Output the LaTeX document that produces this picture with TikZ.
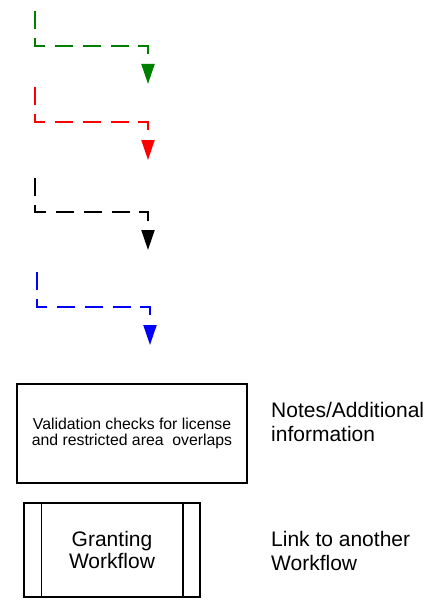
\documentclass[tikz,border=0pt]{standalone}
\usepackage{fontspec}
\setmainfont{Liberation Sans}
\usetikzlibrary{arrows.meta}
\definecolor{dgreen}{RGB}{0,128,0}
\definecolor{dred}{RGB}{255,0,0}
\definecolor{dblue}{RGB}{0,0,255}
\begin{document}
\begin{tikzpicture}[x=1pt,y=-1pt,
  flow/.style={line width=2pt, dash pattern=on 18pt off 9.7pt, dash phase=25pt,
    -{Triangle[width=13pt,length=20pt]}},
  notebox/.style={draw, line width=1.5pt, minimum width=230pt, minimum height=99pt,
    inner sep=0pt, align=center, font=\fontsize{15.8}{16.5}\selectfont},
  linkbox/.style={draw, line width=1.5pt, minimum width=176pt, minimum height=94pt,
    inner sep=0pt, align=center, font=\fontsize{21}{22}\selectfont},
  legend/.style={anchor=west, inner sep=0pt, align=left, font=\fontsize{21}{24}\selectfont}]
\useasboundingbox (0,0) rectangle (438,607);
% green
\coordinate (g0) at (35,8); \coordinate (g1) at (148,84);
\draw[flow, dgreen] (g0) |- ([yshift=38pt]g1) -- (g1);
% red
\coordinate (r0) at (35,84); \coordinate (r1) at (148,160);
\draw[flow, dred] (r0) |- ([yshift=38pt]r1) -- (r1);
% black
\coordinate (k0) at (35,175); \coordinate (k1) at (148,250);
\draw[flow, black] (k0) |- ([yshift=38pt]k1) -- (k1);
% blue
\coordinate (b0) at (37,269); \coordinate (b1) at (150,345);
\draw[flow, dblue] (b0) |- ([yshift=38pt]b1) -- (b1);
% boxes
\node[notebox] (note) at (132,433.5) {Validation checks for license\\and restricted area\ \ overlaps};
\node[legend] (notelbl) at (271,422) {Notes/Additional\\information};
\node[linkbox] (link) at (112,550) {Granting\\Workflow};
\draw[line width=1.5pt] ([xshift=18pt]link.north west) -- ([xshift=18pt]link.south west);
\draw[line width=1.5pt] ([xshift=-18pt]link.north east) -- ([xshift=-18pt]link.south east);
\node[legend] (linklbl) at (271,551) {Link to another\\Workflow};
\end{tikzpicture}
\end{document}
